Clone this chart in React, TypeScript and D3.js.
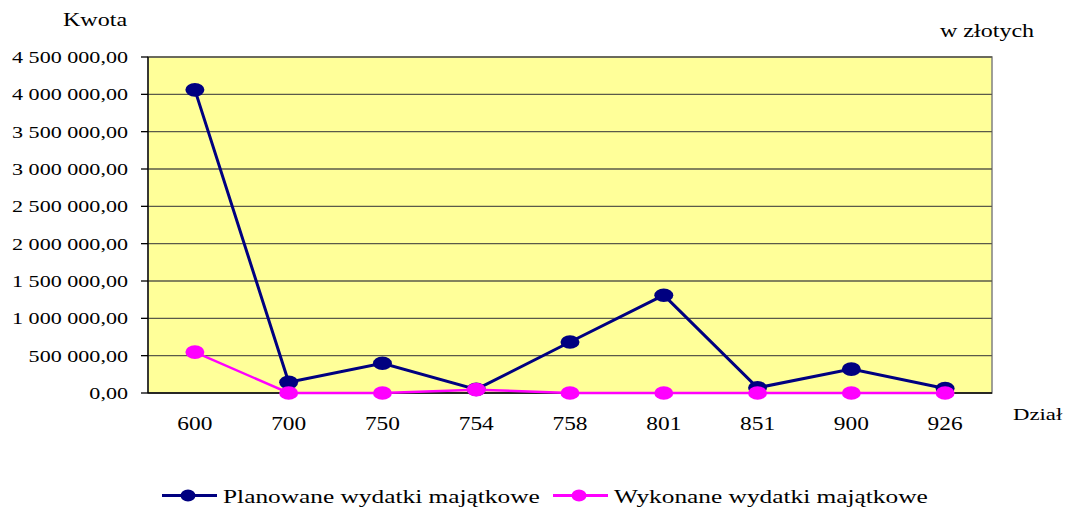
import React from "react";
import * as d3 from "d3";

const categories = ["600", "700", "750", "754", "758", "801", "851", "900", "926"];
const planned = [4060000, 143000, 398000, 48000, 683000, 1310000, 70000, 320000, 60000];
const executed = [548000, 0, 0, 45000, 0, 0, 0, 0, 0];
const yTicks = [0, 500000, 1000000, 1500000, 2000000, 2500000, 3000000, 3500000, 4000000, 4500000];

const series = [
  { name: "Planowane wydatki majątkowe", values: planned, color: "#000080", width: 3 },
  { name: "Wykonane wydatki majątkowe", values: executed, color: "#FF00FF", width: 2.5 },
];

const W = 1066;
const H = 507;
const plot = { left: 148, top: 57, right: 992, bottom: 393 };
const SX = 1.3; // horizontal stretch seen in the reference
const FONT = "Liberation Serif, Times New Roman, serif";

const fmt = (v: number) => {
  const s = d3.format(",.2f")(v);
  return s.replace(/,/g, " ").replace(".", ",");
};

// stretched text helper
const T = ({ x, y, anchor = "start", size = 17, children }: any) => (
  <text
    transform={`translate(${x},${y}) scale(${SX},1)`}
    textAnchor={anchor}
    style={{ fontFamily: FONT, fontSize: size }}
    fill="#000"
  >
    {children}
  </text>
);

export default function App() {
  const x = d3.scaleBand().domain(categories).range([plot.left, plot.right]);
  const y = d3.scaleLinear().domain([0, 4500000]).range([plot.bottom, plot.top]);
  const cx = (c: string) => x(c)! + x.bandwidth() / 2;
  const line = d3
    .line<number>()
    .x((_, i) => cx(categories[i]))
    .y((d) => y(d));

  return (
    <svg width={W} height={H} style={{ position: "absolute", left: 0, top: 0 }}>
      <rect x={0} y={0} width={W} height={H} fill="#fff" />
      <rect
        x={plot.left}
        y={plot.top}
        width={plot.right - plot.left}
        height={plot.bottom - plot.top}
        fill="#FFFF99"
        stroke="#808080"
        strokeWidth={1.5}
      />
      {/* gridlines */}
      {yTicks.slice(1).map((t) => (
        <line key={t} x1={plot.left} x2={plot.right} y1={y(t)} y2={y(t)} stroke="#5a5a4a" strokeWidth={1.3} />
      ))}
      {/* axes */}
      <line x1={plot.left} x2={plot.left} y1={plot.top} y2={plot.bottom} stroke="#000" strokeWidth={1.3} />
      <line x1={plot.left} x2={plot.right} y1={plot.bottom} y2={plot.bottom} stroke="#000" strokeWidth={1.3} />
      {yTicks.map((t) => (
        <g key={t}>
          <line x1={plot.left - 7} x2={plot.left} y1={y(t)} y2={y(t)} stroke="#000" strokeWidth={1.3} />
          <T x={128} y={y(t) + 6} anchor="end">
            {fmt(t)}
          </T>
        </g>
      ))}
      {categories.map((c) => (
        <T key={c} x={cx(c)} y={430} anchor="middle" size={18}>
          {c}
        </T>
      ))}
      <T x={1013} y={420} size={17.5}>Dział</T>
      <T x={63} y={26} size={18.5}>Kwota</T>
      <T x={940} y={37} size={18.5}>w złotych</T>

      {/* series */}
      {series.map((s) => (
        <g key={s.name}>
          <path d={line(s.values) || ""} fill="none" stroke={s.color} strokeWidth={s.width} />
          {s.values.map((v, i) => (
            <ellipse key={i} cx={cx(categories[i])} cy={y(v)} rx={9.5} ry={6.8} fill={s.color} />
          ))}
        </g>
      ))}

      {/* legend */}
      {series.map((s, i) => {
        const lx = i === 0 ? 162 : 553;
        const ly = 495.5;
        return (
          <g key={s.name}>
            <line x1={lx} x2={lx + 55} y1={ly} y2={ly} stroke={s.color} strokeWidth={3} />
            <ellipse cx={lx + 26} cy={ly} rx={7.5} ry={6} fill={s.color} />
            <T x={lx + 61} y={ly + 7.5} size={19.5}>
              {s.name}
            </T>
          </g>
        );
      })}
    </svg>
  );
}
